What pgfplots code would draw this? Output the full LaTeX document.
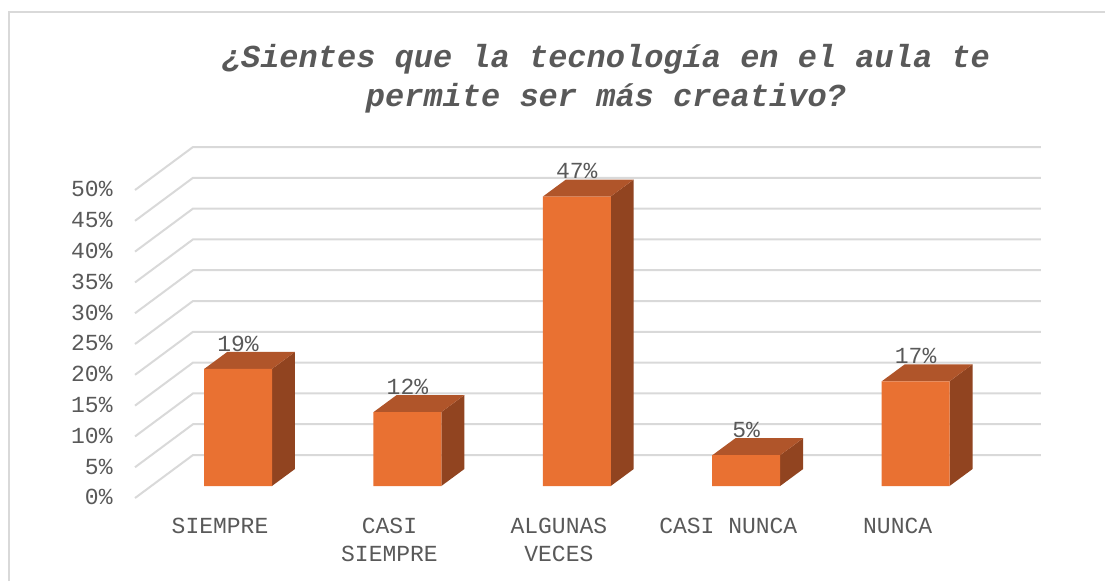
\documentclass[border=0pt]{standalone}
\usepackage{pgfplots}
\pgfplotsset{compat=1.18}
\usepackage{fontspec}
\setmainfont{Liberation Mono}
\definecolor{barfront}{HTML}{E97132}
\definecolor{bartop}{HTML}{B0552A}
\definecolor{barside}{HTML}{914420}
\definecolor{gridc}{HTML}{D9D9D9}
\definecolor{txt}{HTML}{595959}
\tikzset{lab/.style={anchor=base, inner sep=0pt, font=\fontsize{11.5}{14}\selectfont, text=txt}}
\begin{document}
\begin{tikzpicture}
\begin{axis}[
  x=84.7pt, y=3.08pt,
  xmin=-1.405, xmax=5.118, ymin=-15.42, ymax=78.9,
  hide axis, clip=false,
]
% frame (left and top)
\draw[gridc, line width=1pt] (axis cs:-1.352,-15.42) -- (axis cs:-1.352,76.95) -- (axis cs:5.118,76.95);
% wall gridlines
\pgfplotsinvokeforeach{0,5,10,15,20,25,30,35,40,45,50}{
  \draw[gridc, line width=1pt] (axis cs:-0.608,{#1-1.95}) -- (axis cs:-0.266,{#1+5.03}) -- (axis cs:4.740,{#1+5.03});
  \node[lab, anchor=base east] at (axis cs:-0.738,{#1-3.05}) {#1\%};
}
% side faces
\addplot[fill=barside, draw=none] coordinates {(0.2,0) (0.336,2.76) (0.336,21.76) (0.2,19)} -- cycle;
\addplot[fill=barside, draw=none] coordinates {(1.2,0) (1.336,2.76) (1.336,14.76) (1.2,12)} -- cycle;
\addplot[fill=barside, draw=none] coordinates {(2.2,0) (2.336,2.76) (2.336,49.76) (2.2,47)} -- cycle;
\addplot[fill=barside, draw=none] coordinates {(3.2,0) (3.336,2.76) (3.336,7.76) (3.2,5)} -- cycle;
\addplot[fill=barside, draw=none] coordinates {(4.2,0) (4.336,2.76) (4.336,19.76) (4.2,17)} -- cycle;
% top faces
\addplot[fill=bartop, draw=none] coordinates {(-0.2,19) (0.2,19) (0.336,21.76) (-0.064,21.76)} -- cycle;
\addplot[fill=bartop, draw=none] coordinates {(0.8,12) (1.2,12) (1.336,14.76) (0.936,14.76)} -- cycle;
\addplot[fill=bartop, draw=none] coordinates {(1.8,47) (2.2,47) (2.336,49.76) (1.936,49.76)} -- cycle;
\addplot[fill=bartop, draw=none] coordinates {(2.8,5) (3.2,5) (3.336,7.76) (2.936,7.76)} -- cycle;
\addplot[fill=bartop, draw=none] coordinates {(3.8,17) (4.2,17) (4.336,19.76) (3.936,19.76)} -- cycle;
% front faces
\addplot[ybar, bar width=34pt, fill=barfront, draw=none,
  point meta=explicit symbolic, nodes near coords,
  every node near coord/.append style={anchor=center, yshift=12.7pt, inner sep=0pt,
    font=\fontsize{11.5}{14}\selectfont, text=txt}]
  coordinates {(0,19) [19\%] (1,12) [12\%] (2,47) [47\%] (3,5) [5\%] (4,17) [17\%]};
% category labels
\node[lab] at (axis cs:-0.106,-7.63) {SIEMPRE};
\node[lab] at (axis cs:0.894,-7.63) {CASI};
\node[lab] at (axis cs:0.894,-12.18) {SIEMPRE};
\node[lab] at (axis cs:1.894,-7.63) {ALGUNAS};
\node[lab] at (axis cs:1.894,-12.18) {VECES};
\node[lab] at (axis cs:2.894,-7.63) {CASI NUNCA};
\node[lab] at (axis cs:3.894,-7.63) {NUNCA};
% title
\node[anchor=base, inner sep=0pt, font=\fontsize{16}{19.5}\selectfont\bfseries\itshape, text=txt] at (axis cs:2.172,68.02) {¿Sientes que la tecnología en el aula te};
\node[anchor=base, inner sep=0pt, font=\fontsize{16}{19.5}\selectfont\bfseries\itshape, text=txt] at (axis cs:2.172,61.69) {permite ser más creativo?};
\end{axis}
\pgfresetboundingbox
\path (current axis.south west) rectangle (current axis.north east);
\end{tikzpicture}
\end{document}
